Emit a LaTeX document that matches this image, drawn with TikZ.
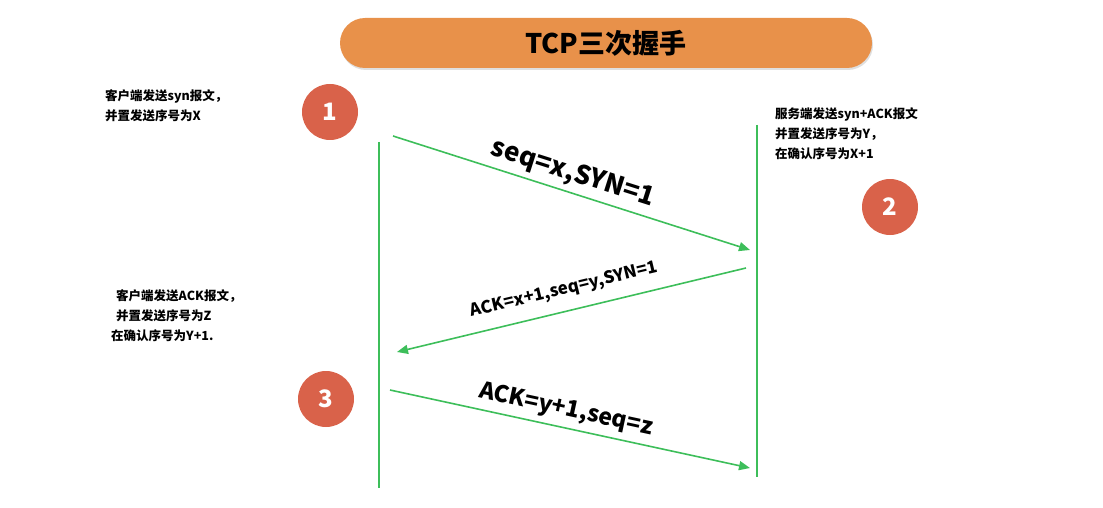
\documentclass[tikz,border=0pt]{standalone}
\usepackage{fontspec}
\setmainfont{Noto Sans CJK SC}
\usetikzlibrary{arrows.meta,shadows}
\definecolor{pill}{HTML}{E8914A}
\definecolor{dot}{HTML}{D9624A}
\definecolor{ln}{HTML}{3DBE5A}
\tikzset{
 num/.style={circle,fill=dot,minimum size=56pt,inner sep=0pt,text=white,font=\fontsize{24}{24}\selectfont\bfseries},
 life/.style={draw=ln,line width=1.6pt},
 msg/.style={draw=ln,line width=1.6pt,-{Triangle[length=11pt,width=9pt]}},
 note/.style={align=left,anchor=north west,font=\fontsize{12.5}{20}\selectfont\bfseries,inner sep=0pt},
 lab/.style={inner sep=0pt}
}
\begin{document}
\begin{tikzpicture}[x=1pt,y=-1pt]
\useasboundingbox (0,0) rectangle (1103,508);
\node[rounded corners=25pt,fill=pill,minimum width=532pt,minimum height=50pt,drop shadow={opacity=0.25,shadow xshift=1pt,shadow yshift=-2pt}] (title) at (606,43) {};
\node[font=\fontsize{27}{27}\selectfont\bfseries] (tt) at (606,43) {TCP三次握手};
\node[num] (n1) at (330,112) {1};
\node[num] (n2) at (890,207) {2};
\node[num] (n3) at (326,399) {3};
\coordinate (l1) at (379,142); \coordinate (l2) at (379,488);
\coordinate (r1) at (757,125); \coordinate (r2) at (757,477);
\draw[life] (l1) -- (l2);
\draw[life] (r1) -- (r2);
\coordinate (a1s) at (393,136); \coordinate (a1e) at (750,250);
\coordinate (a2s) at (746,268); \coordinate (a2e) at (397,352);
\coordinate (a3s) at (390,390); \coordinate (a3e) at (750,468);
\draw[msg] (a1s) -- (a1e);
\draw[msg] (a2s) -- (a2e);
\draw[msg] (a3s) -- (a3e);
\node[lab,rotate=-17.7,font=\fontsize{26}{26}\selectfont\bfseries] (m1) at (573,174) {seq=x,SYN=1};
\node[lab,rotate=13.5,font=\fontsize{17}{17}\selectfont\bfseries] (m2) at (564,290) {ACK=x+1,seq=y,SYN=1};
\node[lab,rotate=-12.2,font=\fontsize{23}{23}\selectfont\bfseries] (m3) at (566,410) {ACK=y+1,seq=z};
\node[note] (t1) at (105,89) {客户端发送syn报文，\\并置发送序号为X};
\node[note] (t2) at (775,107) {服务端发送syn+ACK报文\\并置发送序号为Y，\\在确认序号为X+1};
\node[note] (t3) at (111,289) {\hspace*{5pt}客户端发送ACK报文，\\\hspace*{5pt}并置发送序号为Z\\在确认序号为Y+1.};
\end{tikzpicture}
\end{document}
